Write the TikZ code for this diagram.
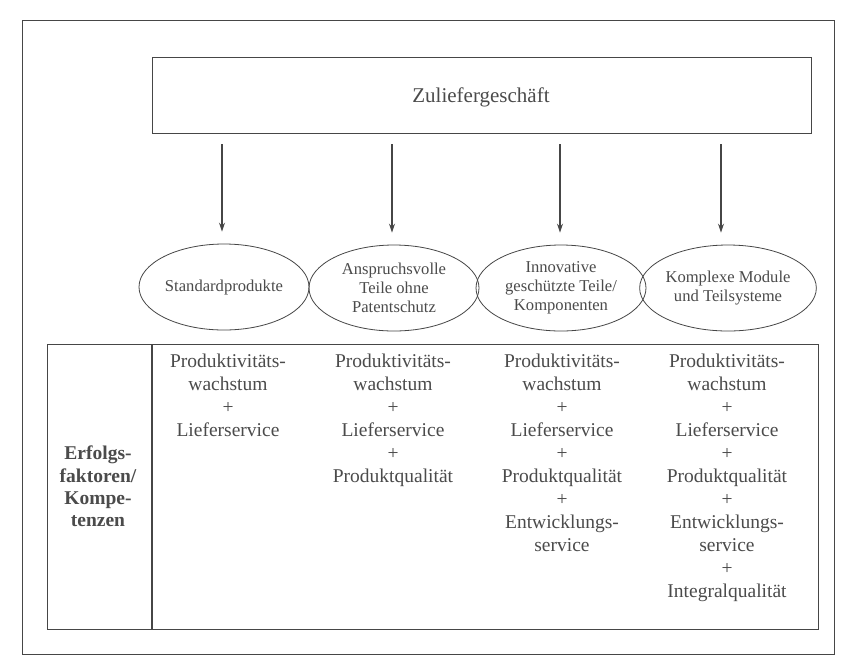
\documentclass[tikz,border=0pt]{standalone}
\usepackage{fontspec}
\setmainfont{Liberation Serif}
\usetikzlibrary{shapes.geometric,arrows.meta}
\definecolor{ink}{RGB}{70,70,70}
\definecolor{txt}{RGB}{75,75,75}
\begin{document}
\begin{tikzpicture}[x=1pt,y=-1pt,
  frame/.style={draw=ink,line width=1.1pt},
  ell/.style={ellipse,draw=ink,line width=0.8pt,minimum width=170pt,minimum height=86pt,inner sep=0pt,align=center,text=txt,font=\fontsize{16.6}{18.8}\selectfont},
  coltext/.style={anchor=north,align=center,inner sep=0pt,text=txt,font=\fontsize{19.5}{23}\selectfont},
  arr/.style={draw=ink,line width=1.2pt,-{Stealth[length=9pt,width=6pt]},shorten >=12pt}]
\useasboundingbox (0,0) rectangle (845,657);
\fill[white] (0,0) rectangle (845,657);
% outer frame
\node[frame,inner sep=0pt,minimum width=812pt,minimum height=634pt,anchor=north west] (outer) at (22,20) {};
% top box
\node[frame,line width=1.3pt,minimum width=659pt,minimum height=76pt,anchor=north west,inner sep=0pt] (top) at (152,57) {};
\node[text=txt,font=\fontsize{21}{24}\selectfont] (toptext) at (481,97) {Zuliefergeschäft};
% ellipses
\node[ell] (e1) at (224,287) {Standardprodukte};
\node[ell] (e2) at (394,288) {Anspruchsvolle\\Teile ohne\\Patentschutz};
\node[ell] (e3) at (561,288) {Innovative\\geschützte Teile/\\Komponenten};
\node[ell] (e4) at (728,288) {Komplexe Module\\und Teilsysteme};
% arrows
\coordinate (a1) at (222,144);
\coordinate (a2) at (392,144);
\coordinate (a3) at (560,144);
\coordinate (a4) at (721,144);
\draw[arr] (a1) -- (a1 |- e1.north);
\draw[arr] (a2) -- (a2 |- e2.north);
\draw[arr] (a3) -- (a3 |- e3.north);
\draw[arr] (a4) -- (a4 |- e4.north);
% table
\node[frame,line width=1.2pt,minimum width=771pt,minimum height=285pt,anchor=north west,inner sep=0pt] (table) at (47,344) {};
\coordinate (dtop) at (152,344);
\coordinate (dbot) at (152,629);
\draw[ink,line width=1.8pt] (dtop) -- (dbot);
\node[anchor=north,align=center,inner sep=0pt,text=txt,font=\fontsize{19.5}{22.3}\selectfont\bfseries] (lab) at (98,446)
  {Erfolgs-\\faktoren/\\Kompe-\\tenzen};
\node[coltext] (c1) at (228,354) {Produktivitäts-\\wachstum\\+\\Lieferservice};
\node[coltext] (c2) at (393,354) {Produktivitäts-\\wachstum\\+\\Lieferservice\\+\\Produktqualität};
\node[coltext] (c3) at (562,354) {Produktivitäts-\\wachstum\\+\\Lieferservice\\+\\Produktqualität\\+\\Entwicklungs-\\service};
\node[coltext] (c4) at (727,354) {Produktivitäts-\\wachstum\\+\\Lieferservice\\+\\Produktqualität\\+\\Entwicklungs-\\service\\+\\Integralqualität};
\end{tikzpicture}
\end{document}
